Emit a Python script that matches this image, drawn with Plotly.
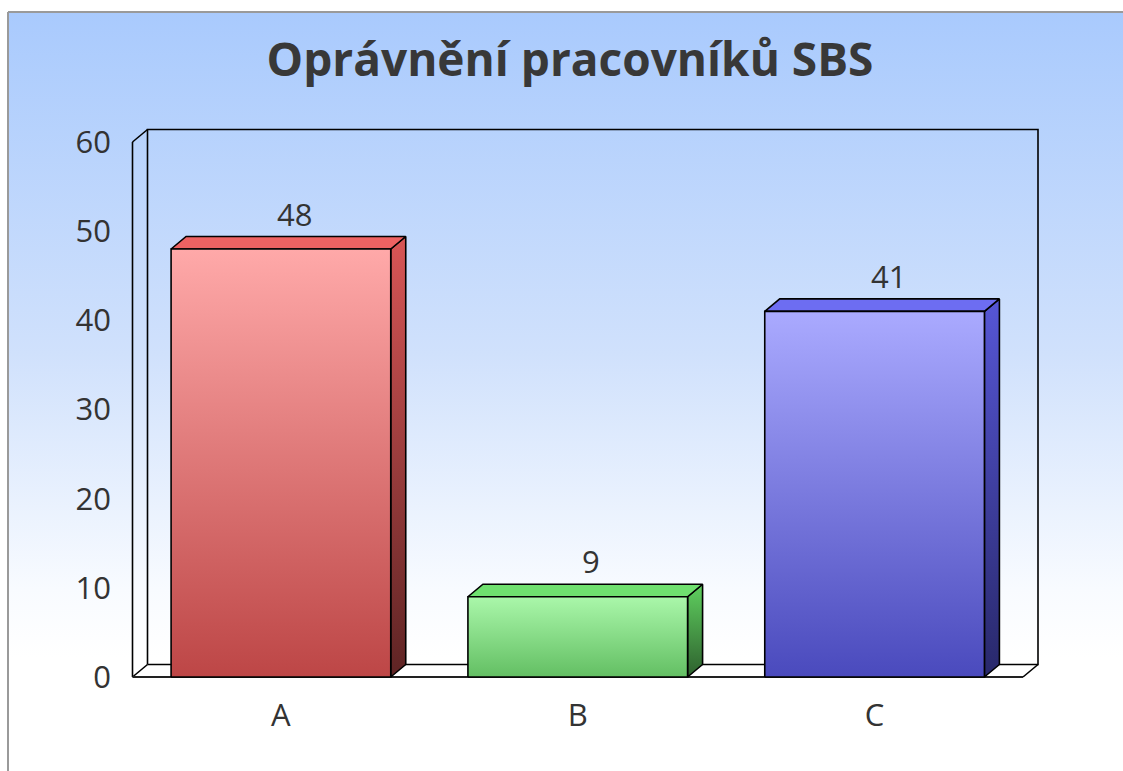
import base64
import plotly.graph_objects as go

# ---------------- data ----------------
categories = ["A", "B", "C"]
values = [48, 9, 41]
y_ticks = [0, 10, 20, 30, 40, 50, 60]
title_text = "Oprávnění pracovníků SBS"

# ---------------- styles ----------------
front_colors = [("#ffa9a9", "#bd4646"), ("#aaf7aa", "#63bf63"), ("#aaaaff", "#4a4abd")]
top_colors = ["#ee6262", "#6fe06f", "#6d6df2"]
side_colors = [("#d85656", "#5e2424"), ("#5fd05f", "#2e602e"), ("#5656d6", "#28286a")]

W, H = 1123, 771
ML, MR, MT, MB = 128, 80, 126, 90
PW, PH = W - ML - MR, H - MT - MB
# pixel anchors of the front plane
PX_LEFT, PX_RIGHT = 132.5, 1023.0
PY_ZERO, PY_TOP = 677.0, 142.0
DEPTH_X, DEPTH_Y = 15.0, 12.5
BAR_W = 0.74

def pxx(px):
    return (px - ML) / PW

def pxy(py):
    return (H - MB - py) / PH

sx = (PX_RIGHT - PX_LEFT) / len(categories)
sy = (PY_ZERO - PY_TOP) / y_ticks[-1]
xmin = -0.5 - (PX_LEFT - ML) / sx
xmax = len(categories) - 0.5 + ((W - MR) - PX_RIGHT) / sx
ymin = -((H - MB) - PY_ZERO) / sy
ymax = (PY_ZERO - MT) / sy
dxu = DEPTH_X / sx
dyu = DEPTH_Y / sy
x0f, x1f = -0.5, len(categories) - 0.5
ytop = y_ticks[-1]

fig = go.Figure()

# background gradient image (svg)
svg = (
    '<svg xmlns="http://www.w3.org/2000/svg" width="100" height="100" preserveAspectRatio="none">'
    '<defs><linearGradient id="g" x1="0" y1="0" x2="0" y2="1">'
    '<stop offset="0" stop-color="#a9cafd"/>'
    '<stop offset="0.45" stop-color="#d0e1fc"/>'
    '<stop offset="0.76" stop-color="#f8fbff"/>'
    '<stop offset="0.85" stop-color="#ffffff"/>'
    '<stop offset="1" stop-color="#ffffff"/>'
    '</linearGradient></defs><rect width="100" height="100" fill="url(#g)"/></svg>'
)
src = "data:image/svg+xml;base64," + base64.b64encode(svg.encode()).decode()
fig.add_layout_image(
    source=src, xref="paper", yref="paper", x=pxx(8), y=pxy(12),
    sizex=pxx(W) - pxx(8), sizey=pxy(12) - pxy(H), xanchor="left", yanchor="top",
    sizing="stretch", layer="below",
)

line_kw = dict(color="black", width=1.6)

def seg(xs, ys, width=1.6, color="black"):
    fig.add_trace(go.Scatter(x=xs, y=ys, mode="lines", line=dict(color=color, width=width),
                             hoverinfo="skip", showlegend=False))

# 3D frame (back wall, left wall, floor)
seg([x0f + dxu, x1f + dxu, x1f + dxu, x0f + dxu, x0f + dxu],
    [dyu, dyu, ytop + dyu, ytop + dyu, dyu])
seg([x0f, x0f + dxu], [ytop, ytop + dyu])
seg([x0f, x0f + dxu], [0, dyu])
seg([x1f, x1f + dxu], [0, dyu])
seg([x0f, x0f], [0, ytop])
seg([x0f, x1f], [0, 0], width=2.2, color="#222222")

# bars
for i, (cat, v) in enumerate(zip(categories, values)):
    xl, xr = i - BAR_W / 2, i + BAR_W / 2
    # side face
    fig.add_trace(go.Scatter(
        x=[xr, xr + dxu, xr + dxu, xr, xr], y=[0, dyu, v + dyu, v, 0],
        mode="lines", fill="toself", line=line_kw,
        fillgradient=dict(type="vertical", colorscale=[[0, side_colors[i][1]], [1, side_colors[i][0]]],
                          start=0, stop=v + dyu),
        hoverinfo="skip", showlegend=False))
    # top face
    fig.add_trace(go.Scatter(
        x=[xl, xl + dxu, xr + dxu, xr, xl], y=[v, v + dyu, v + dyu, v, v],
        mode="lines", fill="toself", fillcolor=top_colors[i], line=line_kw,
        hoverinfo="skip", showlegend=False))
    # front face
    fig.add_trace(go.Scatter(
        x=[xl, xr, xr, xl, xl], y=[0, 0, v, v, 0],
        mode="lines", fill="toself", line=line_kw,
        fillgradient=dict(type="vertical", colorscale=[[0, front_colors[i][1]], [1, front_colors[i][0]]],
                          start=0, stop=v),
        name=cat, hovertemplate=cat + ": " + str(v) + "<extra></extra>", showlegend=False))
    # value label
    fig.add_annotation(x=i + dxu / 2 + 0.02, y=v + dyu, text=str(v), showarrow=False,
                       yanchor="bottom", yshift=0,
                       font=dict(family="Open Sans", size=31, color="#333333"))

# border lines (top & left)
fig.add_shape(type="line", xref="paper", yref="paper", x0=pxx(8), x1=pxx(W), y0=pxy(12), y1=pxy(12),
              line=dict(color="#9a9a9a", width=2), layer="above")
fig.add_shape(type="line", xref="paper", yref="paper", x0=pxx(8), x1=pxx(8), y0=pxy(H), y1=pxy(12),
              line=dict(color="#9a9a9a", width=2), layer="above")

fig.update_layout(
    width=W, height=H,
    margin=dict(l=ML, r=MR, t=MT, b=MB),
    paper_bgcolor="white", plot_bgcolor="rgba(0,0,0,0)",
    title=dict(text=title_text, x=570 / W, xanchor="center", xref="container",
               y=1 - 60 / H, yanchor="middle", yref="container",
               font=dict(family="Open Sans", size=46, color="#383838", weight="bold")),
    xaxis=dict(range=[xmin, xmax], tickvals=list(range(len(categories))), ticktext=categories,
               showgrid=False, zeroline=False, showline=False, ticks="",
               ticklabelstandoff=13,
               tickfont=dict(family="Open Sans", size=31, color="#333333")),
    yaxis=dict(range=[ymin, ymax], tickvals=y_ticks, showgrid=False, zeroline=False,
               showline=False, ticks="", ticklabelstandoff=16,
               tickfont=dict(family="Open Sans", size=31, color="#333333")),
    showlegend=False,
)

fig.write_html(
    "out.html",
    config={"displayModeBar": False},
    post_script="document.body.style.margin='0';document.body.style.overflow='hidden';",
)
